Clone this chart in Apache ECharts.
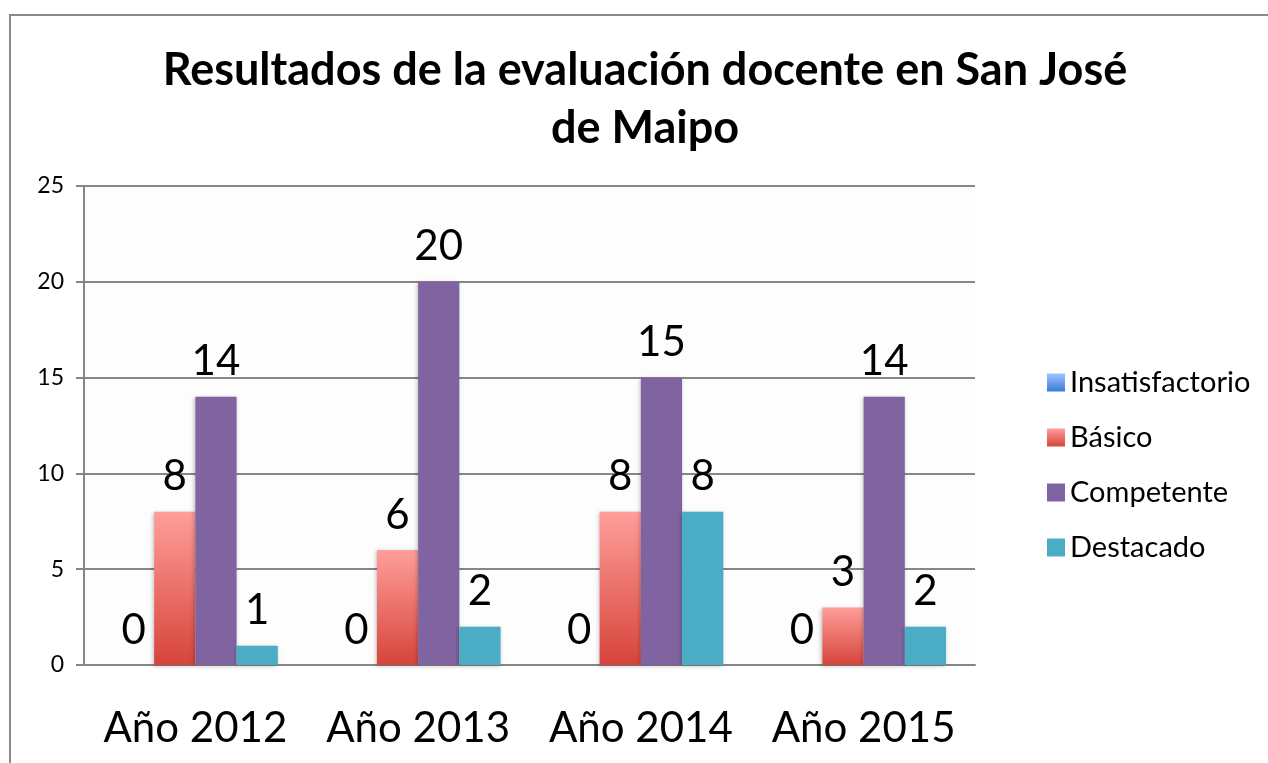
<!DOCTYPE html>
<html>
<head>
<meta charset="utf-8">
<script src="https://cdn.jsdelivr.net/npm/echarts@6/dist/echarts.min.js"></script>
<style>
  html, body { margin: 0; padding: 0; background: #fff; }
  #chart { width: 1268px; height: 763px; }
</style>
</head>
<body>
<div id="chart"></div>
<script>
const categories = ['Año 2012', 'Año 2013', 'Año 2014', 'Año 2015'];
const seriesNames = ['Insatisfactorio', 'Básico', 'Competente', 'Destacado'];
const insatisfactorio = [0, 0, 0, 0];
const basico = [8, 6, 8, 3];
const competente = [14, 20, 15, 14];
const destacado = [1, 2, 8, 2];

const chart = echarts.init(document.getElementById('chart'));
const font = 'Lato';

const grad = function (top, bottom) {
  return new echarts.graphic.LinearGradient(0, 0, 0, 1, [
    {offset: 0, color: top},
    {offset: 1, color: bottom}
  ]);
};

const barLabel = {
  show: true,
  position: 'top',
  distance: 14,
  color: '#000',
  fontFamily: font,
  fontSize: 42
};

const makeSeries = function (name, data, color) {
  return {
    name: name,
    type: 'bar',
    data: data,
    barGap: '0%',
    barCategoryGap: '26%',
    label: barLabel,
    itemStyle: {
      color: color,
      shadowColor: 'rgba(0,0,0,0.25)',
      shadowBlur: 4,
      shadowOffsetX: -1,
      shadowOffsetY: 1
    }
  };
};

chart.setOption({
  backgroundColor: '#fff',
  animation: false,
  graphic: [{
    type: 'rect',
    shape: {x: 10, y: 15, width: 1300, height: 800},
    style: {fill: 'none', stroke: '#8a8a8a', lineWidth: 2},
    silent: true
  }],
  title: {
    text: 'Resultados de la evaluación docente en San José\nde Maipo',
    left: 645,
    textAlign: 'center',
    top: 41,
    padding: 0,
    textStyle: {
      fontFamily: font,
      fontWeight: 'bold',
      fontSize: 45,
      lineHeight: 58,
      color: '#000'
    }
  },
  legend: {
    orient: 'vertical',
    left: 1042,
    top: 363,
    itemWidth: 18,
    itemHeight: 18,
    itemGap: 26,
    icon: 'rect',
    data: seriesNames,
    textStyle: {fontFamily: font, fontSize: 29, color: '#000'}
  },
  grid: {
    left: 84,
    right: 293,
    top: 186,
    bottom: 98,
    show: true,
    backgroundColor: '#fdfdfd',
    borderWidth: 0
  },
  xAxis: {
    type: 'category',
    data: categories,
    axisLine: {lineStyle: {color: '#868686', width: 2}},
    axisTick: {length: 15, interval: 0, lineStyle: {color: '#868686', width: 2}},
    axisLabel: {fontFamily: font, fontSize: 42, color: '#000', margin: 42, interval: 0}
  },
  yAxis: {
    type: 'value',
    min: 0,
    max: 25,
    interval: 5,
    axisLine: {show: true, lineStyle: {color: '#868686', width: 2}},
    axisTick: {show: true, length: 8, lineStyle: {color: '#868686', width: 2}},
    axisLabel: {fontFamily: font, fontSize: 23, color: '#000', margin: 20},
    splitLine: {lineStyle: {color: '#868686', width: 2}}
  },
  series: [
    makeSeries(seriesNames[0], insatisfactorio, grad('#9ec6ff', '#3a7bd5')),
    makeSeries(seriesNames[1], basico, grad('#ff9e9a', '#d6443a')),
    makeSeries(seriesNames[2], competente, '#8064a2'),
    makeSeries(seriesNames[3], destacado, '#4bacc6')
  ]
});
</script>
</body>
</html>
